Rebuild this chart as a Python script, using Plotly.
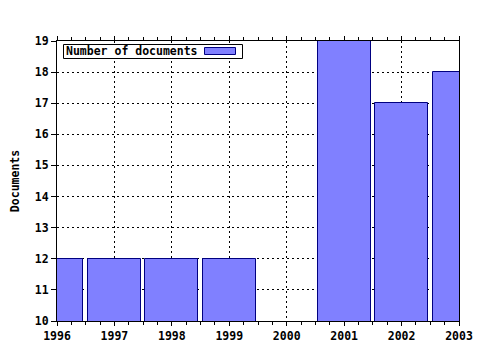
import plotly.graph_objects as go

years = [1996, 1997, 1998, 1999, 2000, 2001, 2002, 2003]
documents = [12, 12, 12, 12, 10, 19, 17, 18]
series_name = "Number of documents"
y_title = "Documents"

FONT = dict(family="DejaVu Sans Mono", size=11.5, color="black", weight="bold")
BAR_FILL = "#8080ff"
BAR_LINE = "#000080"
Y_MIN, Y_MAX = 10, 19

fig = go.Figure()
fig.add_trace(go.Bar(
    x=years, y=documents, width=0.92,
    marker=dict(color=BAR_FILL,
                line=dict(color=BAR_LINE,
                          width=[0 if v <= Y_MIN else 1 for v in documents])),
    showlegend=False,
))

# Plot area in pixels: x 57..459, y 41..321
L, R, T, B = 57, 459, 41, 321
def px(x):
    return (x - L) / (R - L)
def py(y):
    return 1 - (y - T) / (B - T)

fig.add_shape(type="rect", xref="paper", yref="paper",
              x0=px(63.5), x1=px(242.5), y0=py(58.5), y1=py(44.5),
              line=dict(color="black", width=1), fillcolor="white", layer="above")
fig.add_shape(type="rect", xref="paper", yref="paper",
              x0=px(204.5), x1=px(235.5), y0=py(54.5), y1=py(47.5),
              line=dict(color=BAR_LINE, width=1), fillcolor=BAR_FILL, layer="above")
fig.add_annotation(xref="paper", yref="paper", x=px(64), y=py(51.5),
                   xanchor="left", yanchor="middle", showarrow=False,
                   text=series_name, font=FONT)

fig.update_layout(
    width=480, height=350,
    margin=dict(l=L, r=480 - R, t=T, b=350 - B, pad=0, autoexpand=False),
    paper_bgcolor="white", plot_bgcolor="white",
    font=FONT, bargap=0,
)
fig.update_xaxes(
    range=[1996, 2003], dtick=1, tick0=1996, automargin=False,
    showline=True, linecolor="black", linewidth=1, mirror="ticks",
    ticks="outside", ticklen=4, tickcolor="black",
    minor=dict(dtick=0.25, ticks="outside", ticklen=3, tickcolor="black", showgrid=False),
    showgrid=True, gridcolor="black", griddash="2px,3px", gridwidth=1,
    tickfont=FONT, zeroline=False, fixedrange=True,
)
fig.update_yaxes(
    range=[Y_MIN, Y_MAX], dtick=1, tick0=Y_MIN, automargin=False,
    showline=True, linecolor="black", linewidth=1, mirror=True,
    ticks="outside", ticklen=5, tickcolor="black",
    showgrid=True, gridcolor="black", griddash="2px,3px", gridwidth=1,
    tickfont=FONT, zeroline=False,
    title=dict(text=y_title, font=FONT, standoff=12),
)
fig.write_html("out.html")
